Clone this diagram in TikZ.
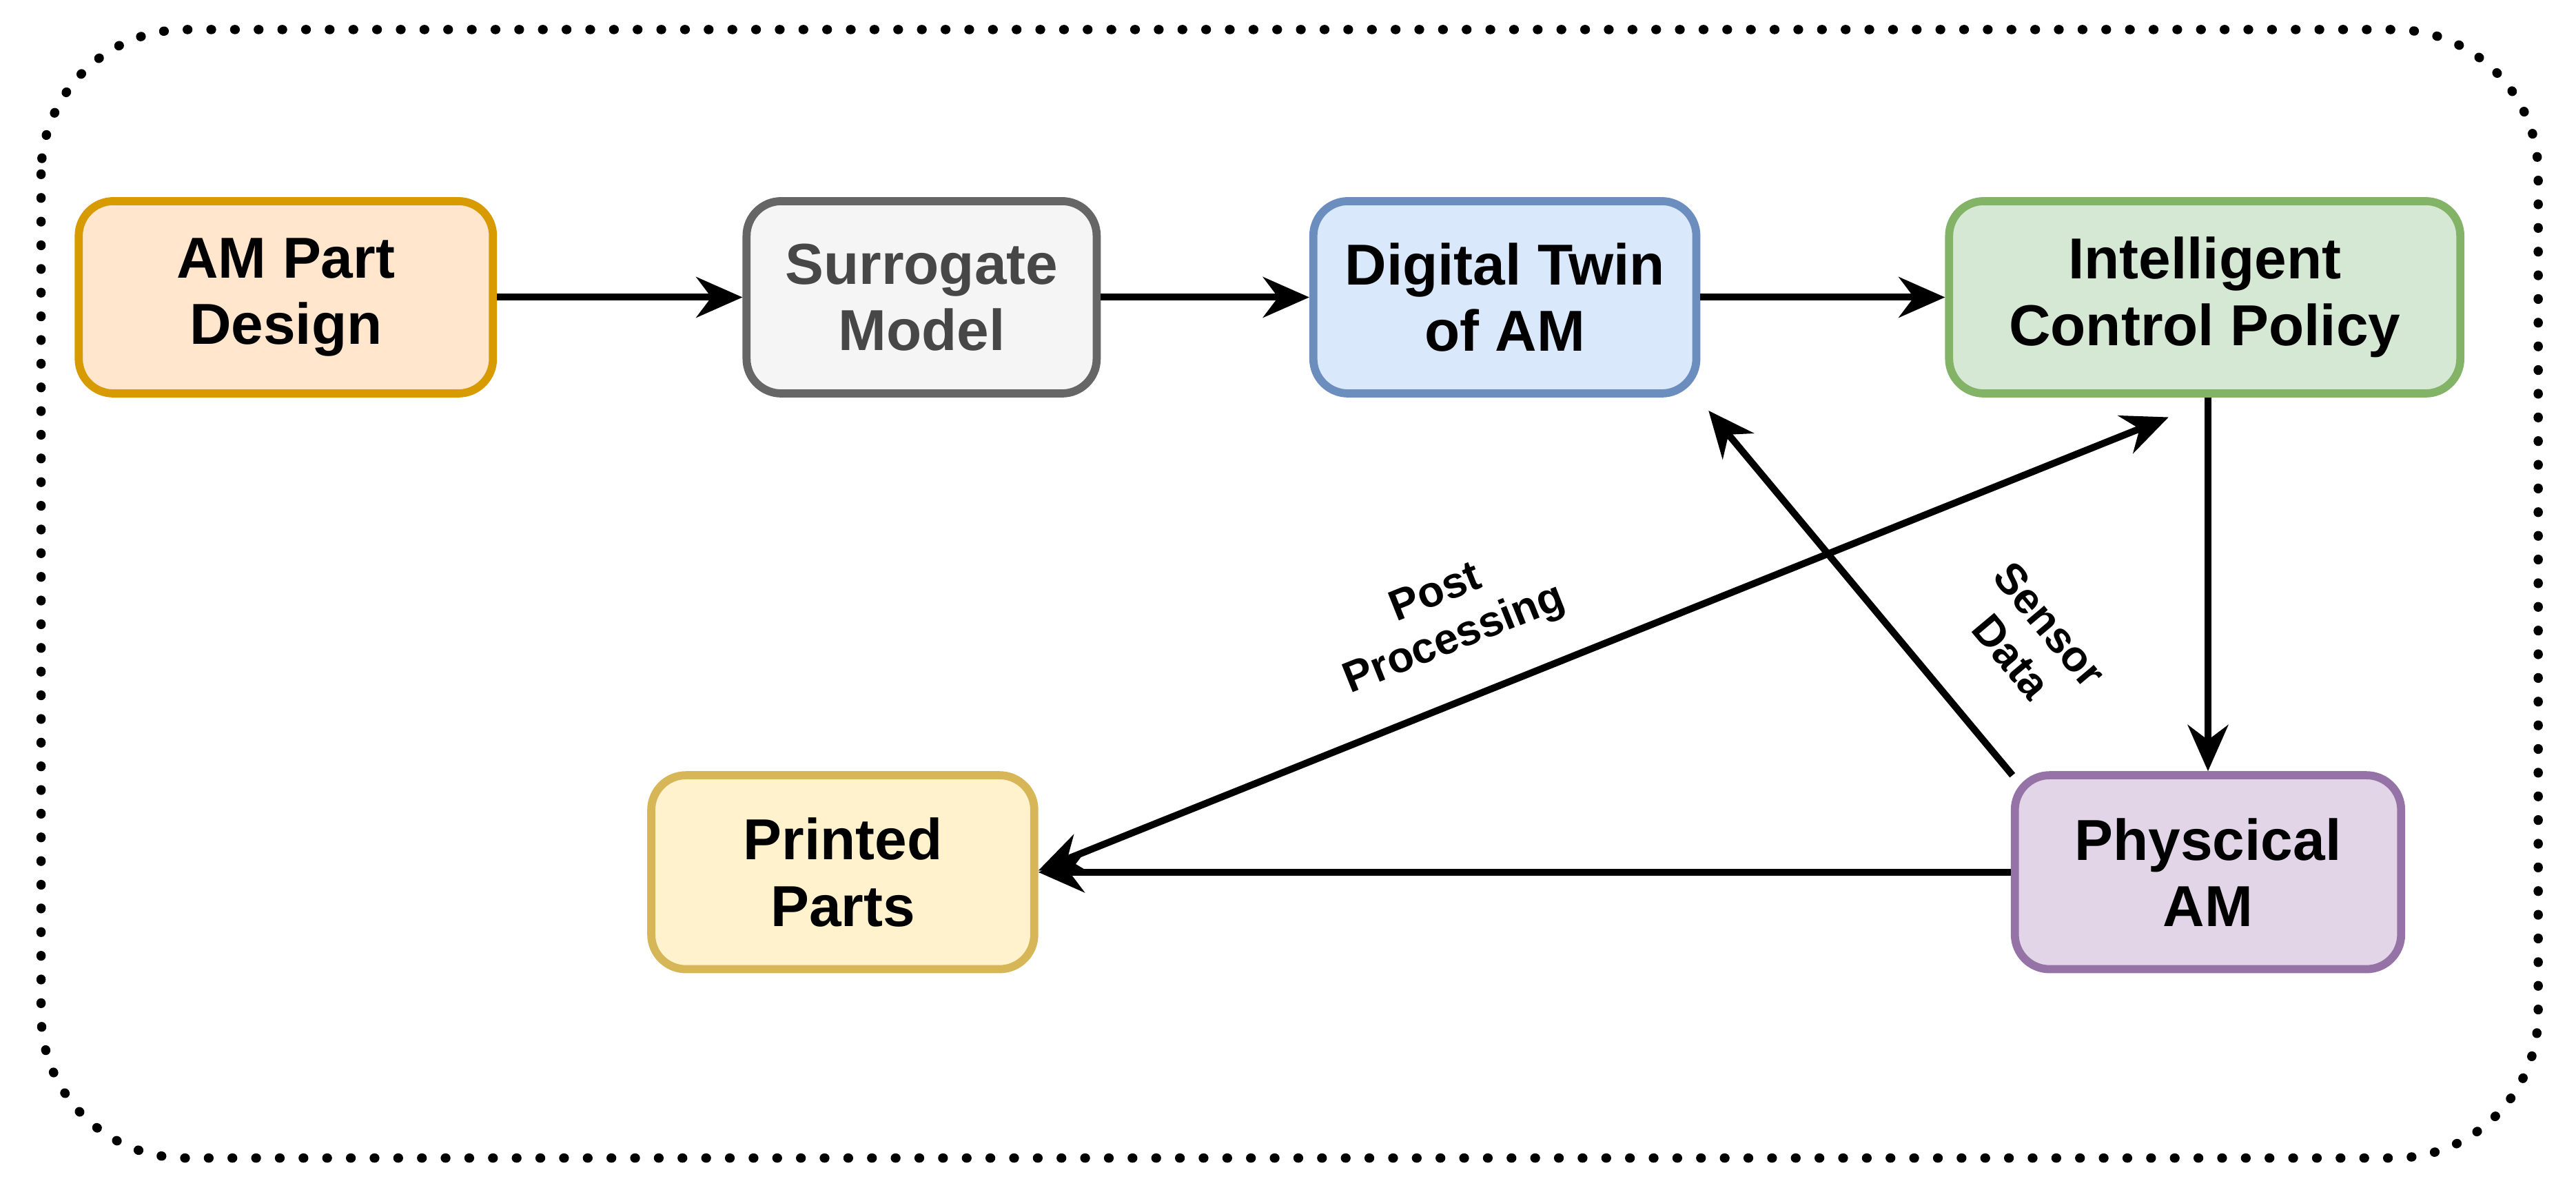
\documentclass[tikz,border=0pt]{standalone}
\usepackage{fontspec}
\setmainfont{Liberation Sans}
\usetikzlibrary{arrows.meta}
\definecolor{oF}{HTML}{FFE6CC}\definecolor{oD}{HTML}{D79B00}
\definecolor{gF}{HTML}{F5F5F5}\definecolor{gD}{HTML}{666666}
\definecolor{bF}{HTML}{DAE8FC}\definecolor{bD}{HTML}{6C8EBF}
\definecolor{nF}{HTML}{D5E8D4}\definecolor{nD}{HTML}{82B366}
\definecolor{yF}{HTML}{FFF2CC}\definecolor{yD}{HTML}{D6B656}
\definecolor{pF}{HTML}{E1D5E7}\definecolor{pD}{HTML}{9673A6}
\begin{document}
\begin{tikzpicture}[x=0.01cm,y=-0.01cm,
 box/.style={draw=#1D,fill=#1F,line width=1.4pt,rounded corners=6pt,align=center,
   font=\bfseries\fontsize{10}{11.5}\selectfont,inner sep=0pt},
 arr/.style={-{Stealth[length=8pt,width=7pt]},line width=1.2pt},
 lab/.style={font=\bfseries\fontsize{7.5}{8.6}\selectfont,align=center,inner sep=1pt}]
\useasboundingbox (0,0) rectangle (1568,731);
\draw[line width=1.6pt,dash pattern=on 0.1pt off 4pt,line cap=round,rounded corners=25pt] (25,18) rectangle (1545,705);
\node[box=o,minimum width=2.52cm,minimum height=1.17cm] (am) at (174,181) {AM Part\\Design};
\node[box=g,text=gD!70!black,minimum width=2.13cm,minimum height=1.17cm] (sm) at (561,181) {Surrogate\\Model};
\node[box=b,minimum width=2.33cm,minimum height=1.17cm] (dt) at (916,181) {Digital Twin\\of AM};
\node[box=n,minimum width=3.11cm,minimum height=1.17cm] (ic) at (1342,181) {Intelligent\\Control Policy};
\node[box=y,minimum width=2.33cm,minimum height=1.18cm] (pp) at (513,531) {Printed\\Parts};
\node[box=p,minimum width=2.35cm,minimum height=1.18cm] (ph) at (1344,531) {Physcical\\AM};
\draw[arr] (am) -- (sm);
\draw[arr] (sm) -- (dt);
\draw[arr] (dt) -- (ic);
\draw[arr] (ic.south -| ph.north) -- (ph.north);
\draw[arr] (ph.west) -- (pp.east);
\coordinate (s1) at (1225,472); \coordinate (s2) at (1040,250);
\draw[arr] (s1) -- (s2);
\coordinate (q1) at (632,530); \coordinate (q2) at (1320,254);
\draw[arr,{Stealth[length=8pt,width=7pt]}-{Stealth[length=8pt,width=7pt]}] (q1) -- (q2);
\node[lab,rotate=21.8] (lp) at (880,376) {Post\\Processing};
\node[lab,rotate=-50] (ls) at (1236,390) {Sensor\\Data};
\end{tikzpicture}
\end{document}
